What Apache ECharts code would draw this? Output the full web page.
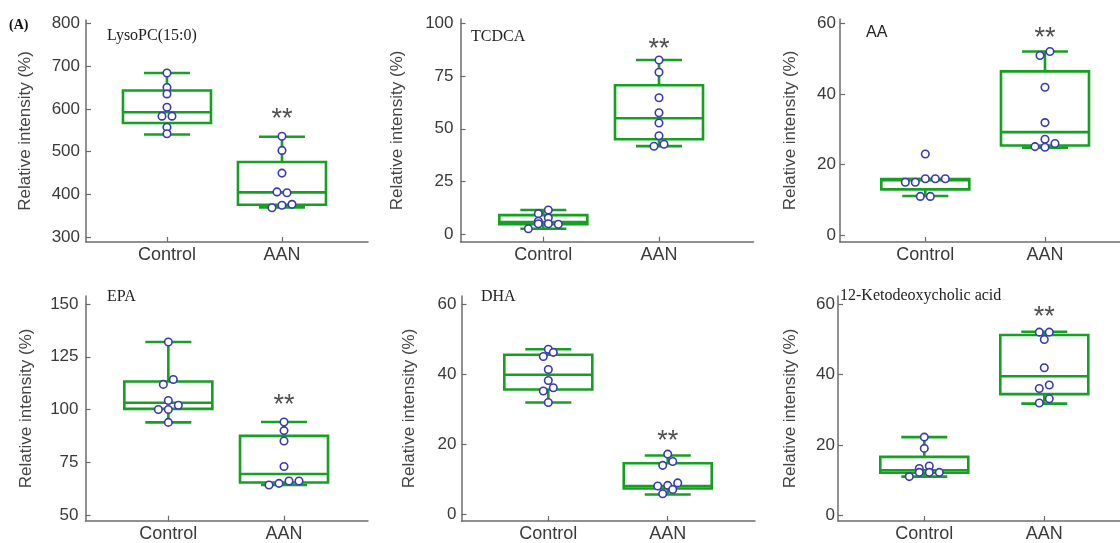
<!DOCTYPE html>
<html><head><meta charset="utf-8">
<script src="https://cdn.jsdelivr.net/npm/echarts@6/dist/echarts.min.js"></script>
<style>html,body{margin:0;padding:0;background:#fff}#c{width:1120px;height:543px}</style>
</head><body><div id="c"></div>
<script>
// ---------- DATA ----------
const groups = ['Control', 'AAN'];
const yAxisTitle = 'Relative intensity (%)';
const panelLabel = '(A)';

// LysoPC(15:0)
const lysoTicks = [300, 400, 500, 600, 700, 800];
const lysoControl = [684, 650, 635, 604, 583, 583, 557, 542];
const lysoAAN = [536, 503, 450, 406, 404, 377, 375, 369];
const lysoBoxControl = [540, 567, 592, 643, 684];   // min, q1, median, q3, max
const lysoBoxAAN = [370, 376, 405, 476, 535];
const lysoStar = 591;

// TCDCA
const tcdcaTicks = [0, 25, 50, 75, 100];
const tcdcaControl = [11.5, 9.8, 7.8, 6.2, 5, 5, 4.8, 2.6];
const tcdcaAAN = [82.6, 76.8, 64.7, 57.6, 52.7, 46.7, 42.7, 41.7];
const tcdcaBoxControl = [2.6, 4.8, 5.8, 9.1, 11.5];
const tcdcaBoxAAN = [41.8, 45, 55, 70.6, 82.6];
const tcdcaStar = 91;

// AA
const aaTicks = [0, 20, 40, 60];
const aaControl = [23, 16, 16, 16, 15, 15, 11, 11];
const aaAAN = [52, 50.9, 41.9, 31.9, 27.2, 26, 25.1, 24.9];
const aaBoxControl = [11.1, 13, 15.6, 15.9, 15.9];
const aaBoxAAN = [24.8, 25.4, 29.2, 46.4, 52];
const aaStar = 57.6;

// EPA
const epaTicks = [50, 75, 100, 125, 150];
const epaControl = [132, 114.2, 111.9, 104.3, 102, 100, 100, 93.9];
const epaAAN = [94.1, 90, 85.1, 73, 66.1, 66.1, 65, 64.2];
const epaBoxControl = [93.9, 100.3, 103.2, 113.3, 132];
const epaBoxAAN = [64.2, 65.4, 69.4, 87.5, 94.1];
const epaStar = 105.4;

// DHA
const dhaTicks = [0, 20, 40, 60];
const dhaControl = [47.1, 46.2, 45, 41.3, 38.2, 36.1, 35.2, 31.9];
const dhaAAN = [17.2, 15.1, 14, 9, 8.1, 8.3, 7.1, 5.9];
const dhaBoxControl = [31.9, 35.6, 39.8, 45.5, 47.1];
const dhaBoxAAN = [5.7, 7.4, 8.1, 14.6, 16.8];
const dhaStar = 22.8;

// 12-Ketodeoxycholic acid
const ketoTicks = [0, 20, 40, 60];
const ketoControl = [22.2, 19, 14, 13.3, 12.2, 12.2, 12.2, 11];
const ketoAAN = [52, 52, 49.9, 41.9, 37, 36, 33.1, 31.9];
const ketoBoxControl = [11, 12.1, 12.8, 16.6, 22.2];
const ketoBoxAAN = [31.7, 34.4, 39.5, 51.2, 52.1];
const ketoStar = 58.1;

// side-by-side spread slots of the dots
const lysoControlSpread = [0, 0, 0, 0, -1, 1, 0, 0];
const lysoAANSpread = [0, 0, 0, -1, 1, 2, 0, -2];
const tcdcaControlSpread = [1, -1, 1, -1, -1, 1, 3, -3];
const tcdcaAANSpread = [0, 0, 0, 0, 0, 0, 1, -1];
const aaControlSpread = [0, 0, 2, 4, -4, -2, -1, 1];
const aaAANSpread = [1, -1, 0, 0, 0, 2, -2, 0];
const epaControlSpread = [0, 1, -1, 0, 2, -2, 0, 0];
const epaAANSpread = [0, 0, 0, 0, 1, 3, -1, -3];
const dhaControlSpread = [0, 1, -1, 0, 0, 1, -1, 0];
const dhaAANSpread = [0, 1, -1, 2, -2, 0, 1, -1];
const ketoControlSpread = [0, 0, 1, -1, -1, 1, 3, -3];
const ketoAANSpread = [-1, 1, 0, 0, 1, -1, 1, -1];

// ---------- LAYOUT / STYLE ----------
const GREEN = '#16a021';
const BLUE = '#3a3ab4';
const TXT = '#3a3a3a';
const AXIS = '#6c6c6c';
const SANS = '"Liberation Sans", Arial, sans-serif';
const SERIF = '"Liberation Serif", "Times New Roman", serif';

const panels = [
  {title: 'LysoPC(15:0)', font: SERIF, tx: 107, ty: 36,
   grid: {left: 86, top: 20, width: 282, height: 222}, x: [0.296, 2.748], y: [289, 807.7], gap: 52, lm: 6,
   ticks: lysoTicks, c: lysoControl, a: lysoAAN, cs: lysoControlSpread, as: lysoAANSpread,
   bc: lysoBoxControl, ba: lysoBoxAAN, star: lysoStar},
  {title: 'TCDCA', font: SERIF, tx: 471, ty: 37,
   grid: {left: 460.5, top: 19, width: 293, height: 222.7}, x: [0.284, 2.817], y: [-3.5, 102], gap: 55, lm: 7,
   ticks: tcdcaTicks, c: tcdcaControl, a: tcdcaAAN, cs: tcdcaControlSpread, as: tcdcaAANSpread,
   bc: tcdcaBoxControl, ba: tcdcaBoxAAN, star: tcdcaStar},
  {title: 'AA', font: SANS, tx: 866, ty: 33,
   grid: {left: 840, top: 19, width: 280, height: 223}, x: [0.287, 2.627], y: [-1.9, 61.22], gap: 41, lm: 4,
   ticks: aaTicks, c: aaControl, a: aaAAN, cs: aaControlSpread, as: aaAANSpread,
   bc: aaBoxControl, ba: aaBoxAAN, star: aaStar},
  {title: 'EPA', font: SERIF, tx: 107, ty: 297,
   grid: {left: 85.5, top: 296, width: 282.5, height: 224.7}, x: [0.284, 2.726], y: [47.3, 153.8], gap: 51, lm: 7,
   ticks: epaTicks, c: epaControl, a: epaAAN, cs: epaControlSpread, as: epaAANSpread,
   bc: epaBoxControl, ba: epaBoxAAN, star: epaStar},
  {title: 'DHA', font: SERIF, tx: 481, ty: 297,
   grid: {left: 461.5, top: 296, width: 293.5, height: 227.3}, x: [0.273, 2.731], y: [-1.86, 62.26], gap: 44, lm: 5,
   ticks: dhaTicks, c: dhaControl, a: dhaAAN, cs: dhaControlSpread, as: dhaAANSpread,
   bc: dhaBoxControl, ba: dhaBoxAAN, star: dhaStar},
  {title: '12-Ketodeoxycholic acid', font: SERIF, tx: 840, ty: 296,
   grid: {left: 838, top: 296, width: 282, height: 225.7}, x: [0.281, 2.631], y: [-1.61, 62.26], gap: 39, lm: 3,
   ticks: ketoTicks, c: ketoControl, a: ketoAAN, cs: ketoControlSpread, as: ketoAANSpread,
   bc: ketoBoxControl, ba: ketoBoxAAN, star: ketoStar}
];

function renderBox(params, api) {
  const x = api.value(0);
  const pMin = api.coord([x, api.value(1)]);
  const pQ1 = api.coord([x, api.value(2)]);
  const pMed = api.coord([x, api.value(3)]);
  const pQ3 = api.coord([x, api.value(4)]);
  const pMax = api.coord([x, api.value(5)]);
  const cx = pMin[0], hw = 44, cw = 23;
  const st = {stroke: GREEN, lineWidth: 2.6, fill: 'none'};
  const line = (x1, y1, x2, y2) => ({type: 'line', shape: {x1, y1, x2, y2}, style: st});
  return {type: 'group', children: [
    {type: 'rect', shape: {x: cx - hw, y: pQ3[1], width: 2 * hw, height: pQ1[1] - pQ3[1]}, style: st},
    line(cx - hw, pMed[1], cx + hw, pMed[1]),
    line(cx, pQ3[1], cx, pMax[1]),
    line(cx, pQ1[1], cx, pMin[1]),
    line(cx - cw, pMax[1], cx + cw, pMax[1]),
    line(cx - cw, pMin[1], cx + cw, pMin[1])
  ]};
}

function renderStar(params, api) {
  const pt = api.coord([api.value(0), api.value(1)]);
  return {type: 'text', x: pt[0], y: pt[1] + 7,
    style: {text: '**', fill: '#505050', font: '27px ' + SANS, align: 'center', verticalAlign: 'middle'}};
}

const option = {
  backgroundColor: '#fff', animation: false,
  grid: [], xAxis: [], yAxis: [], series: [],
  graphic: [{type: 'text', x: 9, y: 25,
    style: {text: panelLabel, fill: '#111', font: 'bold 14px ' + SERIF, verticalAlign: 'middle'}}]
};

panels.forEach((p, i) => {
  option.grid.push(Object.assign({}, p.grid));
  option.xAxis.push({
    type: 'value', gridIndex: i, min: p.x[0], max: p.x[1],
    axisLine: {show: true, onZero: false, lineStyle: {color: AXIS, width: 1.5}},
    axisTick: {show: true, inside: true, length: 5, customValues: [1, 2], lineStyle: {color: AXIS, width: 1.2}},
    axisLabel: {show: true, customValues: [1, 2], formatter: v => groups[Math.round(v) - 1],
      fontSize: 18, color: TXT, fontFamily: SANS, margin: 4},
    splitLine: {show: false}
  });
  option.yAxis.push({
    type: 'value', gridIndex: i, min: p.y[0], max: p.y[1],
    name: yAxisTitle, nameLocation: 'middle', nameGap: p.gap,
    nameTextStyle: {fontSize: 17, color: '#444', fontFamily: SANS},
    axisLine: {show: true, onZero: false, lineStyle: {color: AXIS, width: 1.5}},
    axisTick: {show: true, inside: true, length: 5, customValues: p.ticks, lineStyle: {color: AXIS, width: 1.2}},
    axisLabel: {show: true, customValues: p.ticks, fontSize: 17, color: TXT, fontFamily: SANS, margin: p.lm},
    splitLine: {show: false}
  });
  option.series.push({
    type: 'custom', xAxisIndex: i, yAxisIndex: i, z: 2, renderItem: renderBox,
    encode: {x: 0, y: [1, 2, 3, 4, 5]},
    data: [[1].concat(p.bc), [2].concat(p.ba)]
  });
  const pts = [];
  p.c.forEach((v, k) => pts.push({value: [1, v], symbolOffset: [p.cs[k] * 5, 0]}));
  p.a.forEach((v, k) => pts.push({value: [2, v], symbolOffset: [p.as[k] * 5, 0]}));
  option.series.push({
    type: 'scatter', xAxisIndex: i, yAxisIndex: i, z: 3, symbol: 'circle', symbolSize: 7.5,
    itemStyle: {color: '#fff', borderColor: BLUE, borderWidth: 1.6, opacity: 1},
    data: pts
  });
  option.series.push({
    type: 'custom', xAxisIndex: i, yAxisIndex: i, z: 4, renderItem: renderStar,
    encode: {x: 0, y: 1}, data: [[2, p.star]]
  });
  option.graphic.push({type: 'text', x: p.tx, y: p.ty,
    style: {text: p.title, fill: '#222', font: '16px ' + p.font, verticalAlign: 'middle'}});
});

const chart = echarts.init(document.getElementById('c'), null, {renderer: 'canvas'});
chart.setOption(option);
</script></body></html>
